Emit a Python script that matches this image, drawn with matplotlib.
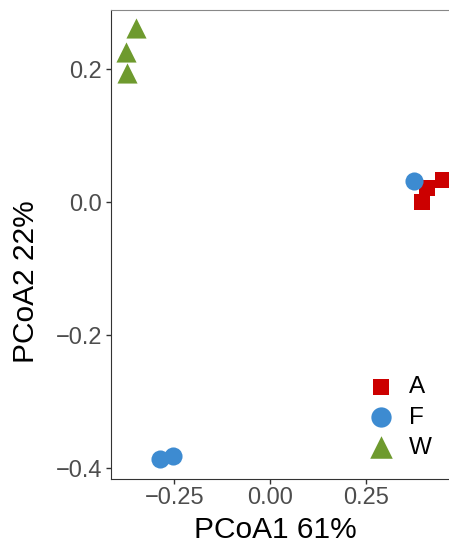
import matplotlib
matplotlib.use('Agg')
import matplotlib.pyplot as plt

plt.rcParams['font.family'] = ['Liberation Sans', 'DejaVu Sans']

# sample coordinates
groups = ['A', 'F', 'W']
a_x = [0.397, 0.410, 0.451]
a_y = [0.0005, 0.0215, 0.0335]
f_x = [0.376, -0.287, -0.252]
f_y = [0.0316, -0.386, -0.3815]
w_x = [-0.350, -0.376, -0.372]
w_y = [0.262, 0.226, 0.194]

xticks = [-0.25, 0.00, 0.25]
xticklabels = ['\u22120.25', '0.00', '0.25']
yticks = [-0.4, -0.2, 0.0, 0.2]
yticklabels = ['\u22120.4', '\u22120.2', '0.0', '0.2']

fig = plt.figure(figsize=(4.49, 5.46), dpi=100)
ax = fig.add_axes([110.7/449, 67/546, (449-110.7)/449, 469/546])

ax.scatter(a_x, a_y, marker='s', s=117, color='#CC0000', linewidths=0, label=groups[0])
ax.scatter(f_x, f_y, marker='o', s=170, color='#3D8BD1', linewidths=0, label=groups[1])
ax.scatter(w_x, w_y, marker='^', s=210, color='#6E9A2E', linewidths=0, label=groups[2])

ax.set_xlim(-0.4156, 0.467)
ax.set_ylim(-0.4165, 0.289)
ax.set_xticks(xticks)
ax.set_xticklabels(xticklabels)
ax.set_yticks(yticks)
ax.set_yticklabels(yticklabels)
ax.tick_params(labelsize=17, labelcolor='#4D4D4D', color='#333333', length=3.5, width=1, pad=2.5)

ax.spines['right'].set_visible(False)
ax.spines['top'].set_color('#888888')
ax.spines['left'].set_color('#333333')
ax.spines['bottom'].set_color('#333333')

fig.text(275/449, 1 - 530/546, 'PCoA1 61%', fontsize=21.5, ha='center', va='center')
fig.text(26/449, 1 - 282/546, 'PCoA2 22%', fontsize=21.5, ha='center', va='center', rotation=90)

leg = ax.legend(loc='center left', bbox_to_anchor=(0.735, 0.131), frameon=False, fontsize=17.5,
                handletextpad=0.64, labelspacing=0.34, borderaxespad=0, handlelength=1.0,
                markerscale=1.12)

fig.savefig('out.png', dpi=100)
